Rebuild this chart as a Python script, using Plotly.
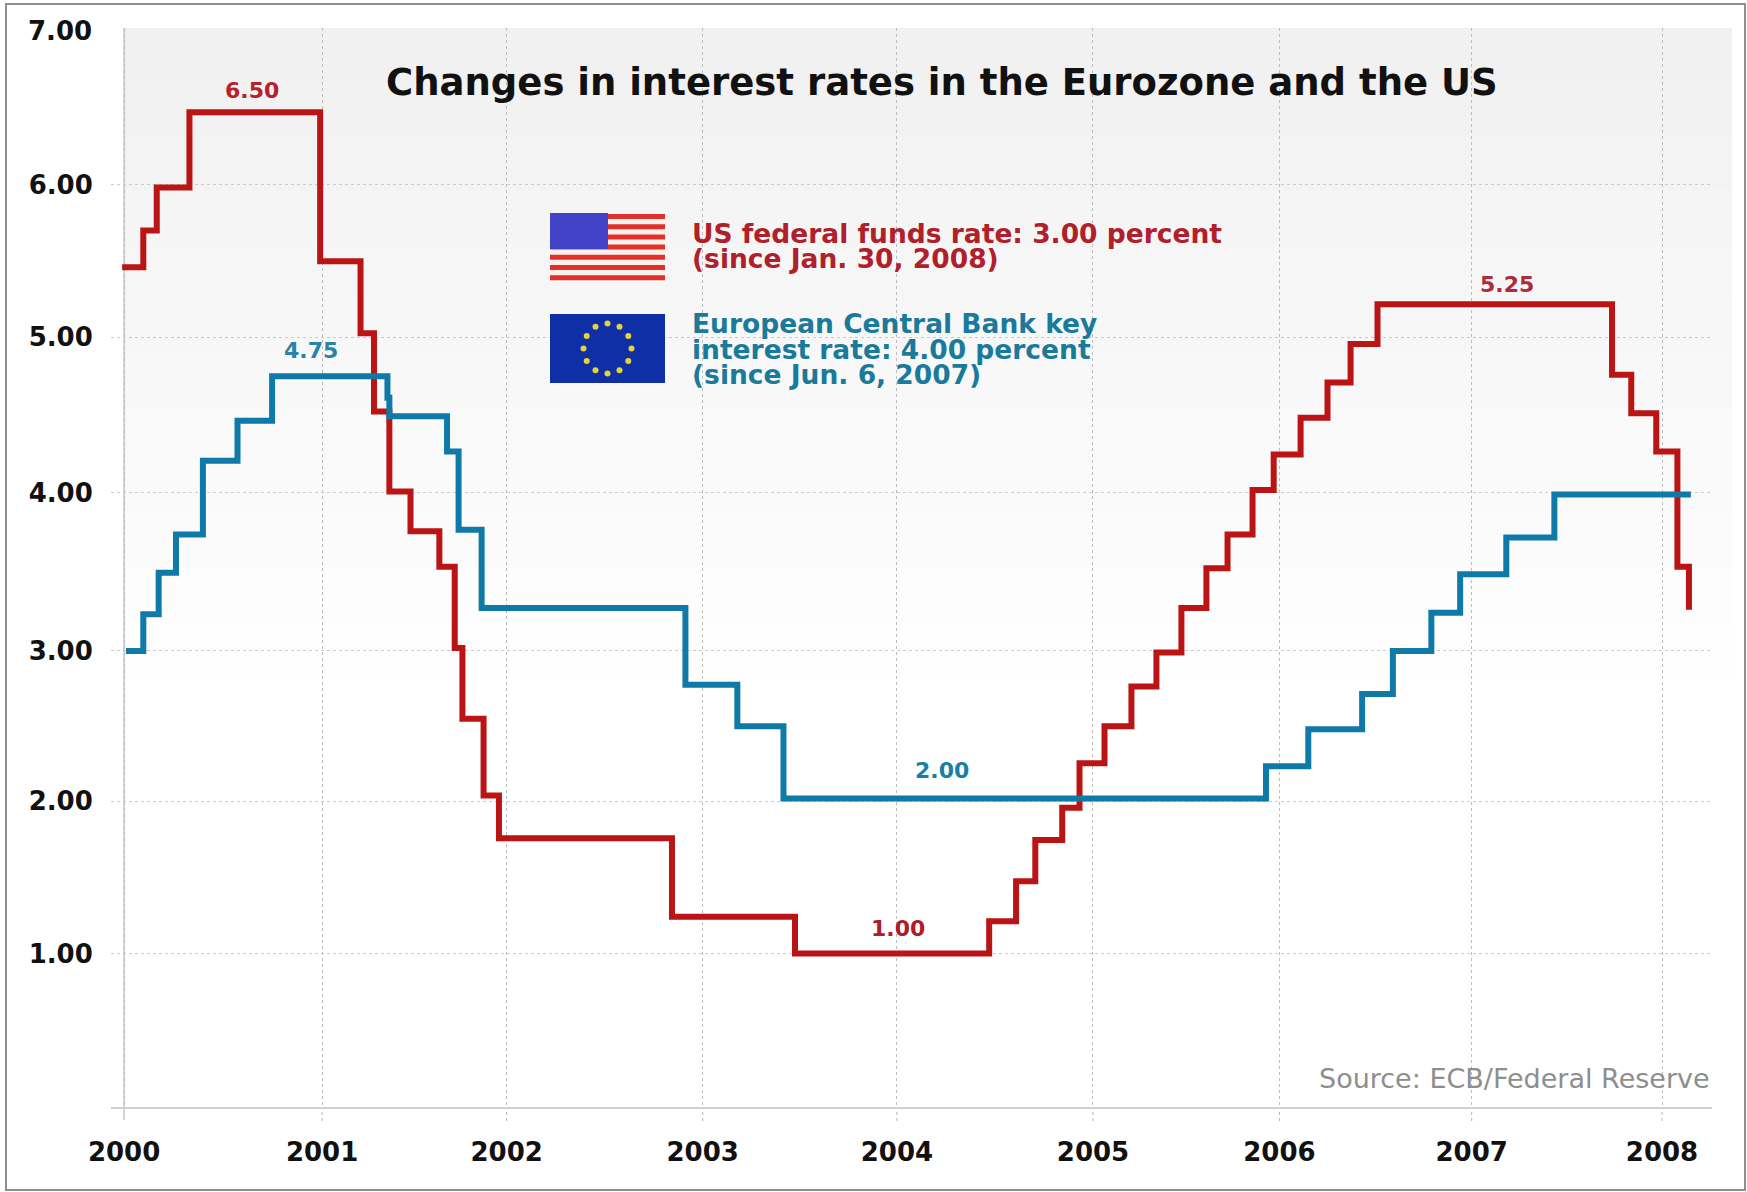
import math
import plotly.graph_objects as go

W, H = 1747, 1192
LEFT, RIGHT, TOP, BOTTOM = 111, 1712, 28, 1107

tick_labels_x = ["2000", "2001", "2002", "2003", "2004", "2005", "2006", "2007", "2008"]
tick_pos_x = [2000.00, 2001.03, 2001.99, 2003.01, 2004.02, 2005.04, 2006.01, 2007.01, 2008.00]
tick_labels_y = ["1.00", "2.00", "3.00", "4.00", "5.00", "6.00"]
tick_pos_y = [0.997, 1.993, 2.971, 4.00, 5.016, 6.007]

us_dates = [1999.99, 2000.10, 2000.17, 2000.34, 2001.02, 2001.23, 2001.30, 2001.38, 2001.49, 2001.64,
            2001.72, 2001.76, 2001.87, 2001.95, 2002.85, 2003.49, 2004.50, 2004.64, 2004.74, 2004.88,
            2004.97, 2005.10, 2005.24, 2005.37, 2005.50, 2005.63, 2005.74, 2005.87, 2005.98, 2006.12,
            2006.26, 2006.38, 2006.52, 2007.74, 2007.84, 2007.97, 2008.08, 2008.14]
us_rates = [5.47, 5.71, 5.99, 6.48, 5.51, 5.04, 4.53, 4.01, 3.75, 3.52,
            2.99, 2.53, 2.03, 1.75, 1.24, 1.00, 1.21, 1.47, 1.74, 1.95,
            2.24, 2.48, 2.74, 2.96, 3.25, 3.51, 3.73, 4.02, 4.25, 4.49,
            4.72, 4.97, 5.23, 4.77, 4.52, 4.27, 3.52, 3.24]

ecb_dates = [2000.01, 2000.10, 2000.18, 2000.27, 2000.41, 2000.59, 2000.77, 2001.37, 2001.38, 2001.68,
             2001.74, 2001.86, 2002.92, 2003.19, 2003.43, 2005.94, 2006.16, 2006.44, 2006.60, 2006.80,
             2006.95, 2007.19, 2007.44, 2008.15]
ecb_rates = [2.97, 3.21, 3.48, 3.73, 4.21, 4.47, 4.76, 4.62, 4.50, 4.27,
             3.76, 3.25, 2.75, 2.48, 2.01, 2.22, 2.46, 2.69, 2.97, 3.22,
             3.47, 3.71, 3.99, 3.99]

peak_labels = [("6.50", 252, 91, "#b8202c"), ("4.75", 311, 351, "#2a82a8"),
               ("2.00", 942, 770, "#1a7fa8"), ("1.00", 898, 928, "#b01c28"),
               ("5.25", 1507, 285, "#b02a3a")]
legend_lines = [("US federal funds rate: 3.00 percent", 233, "#b0202a"),
                ("(since Jan. 30, 2008)", 258, "#b0202a"),
                ("European Central Bank key", 323, "#1a7a9c"),
                ("interest rate: 4.00 percent", 349, "#1a7a9c"),
                ("(since Jun. 6, 2007)", 374, "#1a7a9c")]


def px(x):
    return (x - LEFT) / (RIGHT - LEFT)


def py(y):
    return (BOTTOM - y) / (BOTTOM - TOP)


FONT = "DejaVu Sans"
shapes = []
annos = []


def rect(x0, y0, x1, y1, fill, layer="below", line=None):
    shapes.append(dict(type="rect", xref="paper", yref="paper", x0=px(x0), x1=px(x1), y0=py(y0), y1=py(y1),
                       fillcolor=fill, layer=layer, line=line or dict(width=0)))


# soft grey panel fading to white
STEPS = 13
for i in range(STEPS):
    level = 241 + round(14 * i / (STEPS - 1))
    y0 = 28 + i * 54
    rect(124, y0, 1732, y0 + 54, f"rgb({level},{level},{level})")

# outer frame
rect(6, 4, 1745, 1190, "rgba(0,0,0,0)", layer="above", line=dict(color="#8f8f8f", width=2))

# solid line for the first year and dotted tick stubs under the axis
shapes.append(dict(type="line", xref="x", yref="paper", x0=tick_pos_x[0], x1=tick_pos_x[0], y0=py(1120), y1=py(28),
                   layer="below", line=dict(color="#d4d4d4", width=2)))
for t in tick_pos_x[1:]:
    shapes.append(dict(type="line", xref="x", yref="paper", x0=t, x1=t, y0=py(1121), y1=0,
                       layer="below", line=dict(color="#b4b4b4", width=1, dash="dot")))

# US flag
rect(550, 213, 665, 280, "#fbf1ea", layer="above")
for k in range(7):
    rect(550, 214 + k * 10.2, 665, 219 + k * 10.2, "#e0322a", layer="above")
rect(550, 213, 608, 249, "#4343c8", layer="above")

# EU flag
rect(550, 314, 665, 383, "#0f2fa6", layer="above")
for k in range(12):
    a = math.radians(k * 30)
    cx, cy = 607.5 + 24 * math.sin(a), 348.5 - 25 * math.cos(a)
    shapes.append(dict(type="circle", xref="paper", yref="paper", x0=px(cx - 3), x1=px(cx + 3),
                       y0=py(cy + 3), y1=py(cy - 3), fillcolor="#e6d23a", line=dict(width=0), layer="above"))

annos.append(dict(text="Changes in interest rates in the Eurozone and the US", xref="paper", yref="paper",
                  x=px(942), y=py(82), showarrow=False, xanchor="center", yanchor="middle",
                  font=dict(family=FONT, size=37, color="#111111", weight="bold")))
annos.append(dict(text="7.00", xref="paper", yref="paper", x=px(94), y=py(31), showarrow=False,
                  xanchor="right", yanchor="middle", font=dict(family=FONT, size=26, color="#111111", weight="bold")))
annos.append(dict(text="Source: ECB/Federal Reserve", xref="paper", yref="paper", x=px(1712), y=py(1078),
                  showarrow=False, xanchor="right", yanchor="middle", font=dict(family=FONT, size=27, color="#8e8e8e")))
for text, x, y, color in peak_labels:
    annos.append(dict(text=text, xref="paper", yref="paper", x=px(x), y=py(y), showarrow=False,
                      xanchor="center", yanchor="middle", font=dict(family=FONT, size=22, color=color, weight="bold")))
for text, y, color in legend_lines:
    annos.append(dict(text=text, xref="paper", yref="paper", x=px(690), y=py(y), showarrow=False,
                      xanchor="left", yanchor="middle", font=dict(family=FONT, size=26.5, color=color, weight="bold")))

fig = go.Figure()
fig.add_trace(go.Scatter(x=us_dates, y=us_rates, mode="lines", name="US federal funds rate",
                         line=dict(color="#bb1414", width=6, shape="hv")))
fig.add_trace(go.Scatter(x=ecb_dates, y=ecb_rates, mode="lines", name="European Central Bank key rate",
                         line=dict(color="#0f7aa8", width=6, shape="hv")))

fig.update_layout(
    width=W, height=H, autosize=False,
    margin=dict(l=LEFT, r=W - RIGHT, t=TOP, b=H - BOTTOM, pad=0),
    paper_bgcolor="white", plot_bgcolor="rgba(0,0,0,0)",
    showlegend=False, shapes=shapes, annotations=annos,
    xaxis=dict(range=[1999.932, 2008.26], tickmode="array", tickvals=tick_pos_x, ticktext=tick_labels_x,
               showgrid=True, gridcolor="#bcbcbc", griddash="dot", gridwidth=1, zeroline=False,
               showline=True, linecolor="#cfcfcf", linewidth=2, ticks="outside", ticklen=21,
               tickcolor="rgba(0,0,0,0)",
               tickfont=dict(family=FONT, size=26, color="#111111", weight="bold")),
    yaxis=dict(range=[0, 7.029], tickmode="array", tickvals=tick_pos_y, ticktext=tick_labels_y,
               showgrid=True, gridcolor="#cccccc", griddash="dot", gridwidth=1, zeroline=False,
               showline=False, ticks="outside", ticklen=12, tickcolor="rgba(0,0,0,0)",
               tickfont=dict(family=FONT, size=26, color="#111111", weight="bold")),
)

fig.write_html("out.html", config={"displayModeBar": False},
               post_script="document.body.style.margin='0';document.body.style.overflow='hidden';")
